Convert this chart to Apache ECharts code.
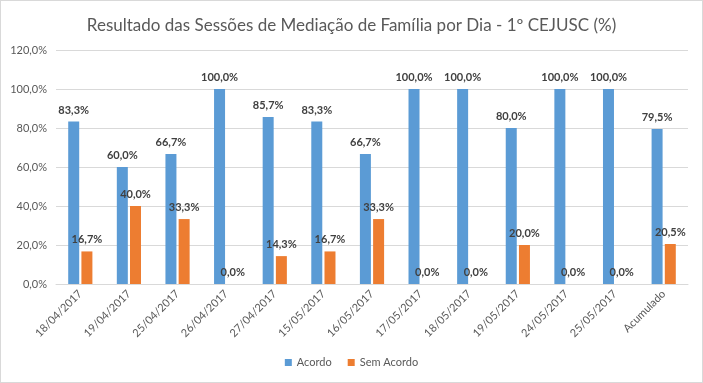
<!DOCTYPE html>
<html><head><meta charset="utf-8">
<script src="https://cdn.jsdelivr.net/npm/echarts@6/dist/echarts.min.js"></script>
<style>html,body{margin:0;padding:0;background:#fff}#c{width:701px;height:381px;border:1px solid #d9d9d9}</style>
</head><body><div id="c"></div>
<script>
const categories = ['18/04/2017','19/04/2017','25/04/2017','26/04/2017','27/04/2017','15/05/2017','16/05/2017','17/05/2017','18/05/2017','19/05/2017','24/05/2017','25/05/2017','Acumulado'];
const acordo = [83.3,60.0,66.7,100.0,85.7,83.3,66.7,100.0,100.0,80.0,100.0,100.0,79.5];
const semAcordo = [16.7,40.0,33.3,0.0,14.3,16.7,33.3,0.0,0.0,20.0,0.0,0.0,20.5];
const yTicks = [0,20,40,60,80,100,120];
const fmt = v => v.toFixed(1).replace('.', ',') + '%';
const FONT = 'Lato';
const chart = echarts.init(document.getElementById('c'));
const lbl = {show:true, position:'top', distance:6, color:'#404040', fontWeight:'bold', fontSize:11, fontFamily:FONT, formatter:p=>fmt(p.value)};
chart.setOption({
  animation:false,
  title:{text:'Resultado das Sessões de Mediação de Família por Dia - 1º CEJUSC (%)', left:'center', top:11, textStyle:{color:'#595959', fontSize:17, fontWeight:'normal', fontFamily:FONT}},
  legend:{bottom:9, left:'center', itemWidth:7, itemHeight:7, itemGap:16, icon:'rect', textStyle:{color:'#595959', fontSize:11, fontFamily:FONT}, data:['Acordo','Sem Acordo']},
  grid:{left:55, right:14, top:49, bottom:98, containLabel:false},
  xAxis:{type:'category', data:categories, axisTick:{show:false}, axisLine:{lineStyle:{color:'#d9d9d9'}}, axisLabel:{rotate:45, color:'#595959', fontSize:11, fontFamily:FONT, interval:0, margin:8}},
  yAxis:{type:'value', min:yTicks[0], max:yTicks[yTicks.length-1], interval:20, axisLabel:{color:'#595959', fontSize:11, fontFamily:FONT, formatter:v=>v.toFixed(1).replace('.',',')+'%', margin:9}, splitLine:{lineStyle:{color:'#d9d9d9'}}, axisLine:{show:false}, axisTick:{show:false}},
  series:[
    {name:'Acordo', type:'bar', data:acordo, barWidth:11, barGap:'20%', itemStyle:{color:'#5b9bd5'}, label:lbl},
    {name:'Sem Acordo', type:'bar', data:semAcordo, barWidth:11, barGap:'20%', itemStyle:{color:'#ed7d31'}, label:lbl}
  ]
});
</script></body></html>
